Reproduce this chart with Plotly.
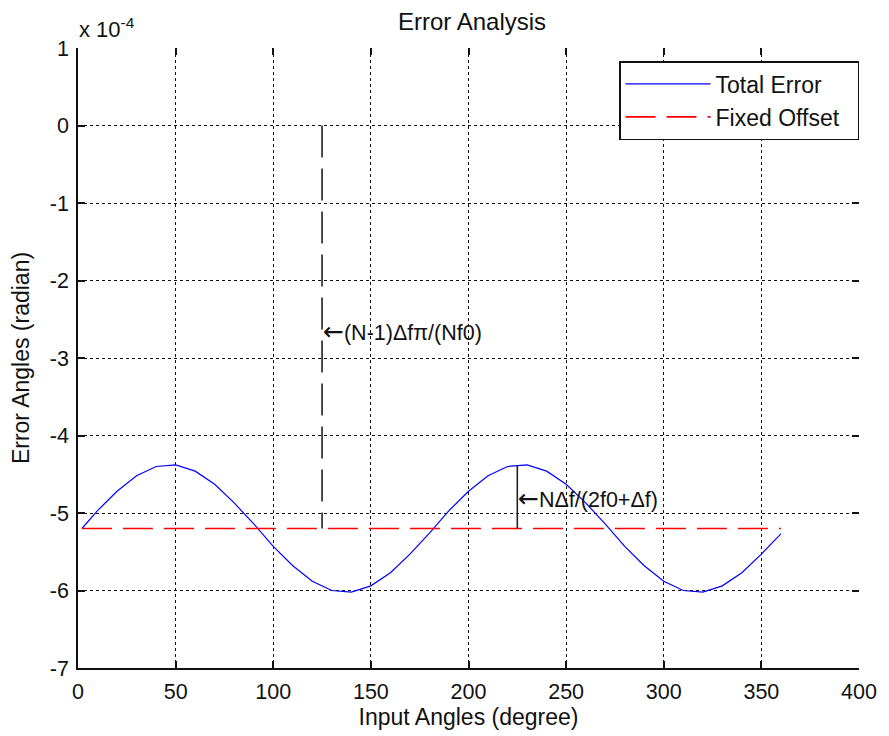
import plotly.graph_objects as go

# Input angle (degree) and total error (x 1e-4 radian)
angles = [2, 10, 20, 30, 40, 50, 60, 70, 80, 90, 100, 110, 120, 130, 140, 150,
          160, 170, 180, 190, 200, 210, 220, 230, 240, 250, 260, 270, 280, 290,
          300, 310, 320, 330, 340, 350, 360]
total_error = [-5.20, -4.97, -4.72, -4.52, -4.40, -4.38, -4.46, -4.63, -4.87,
               -5.14, -5.43, -5.68, -5.88, -6.00, -6.02, -5.94, -5.77, -5.53,
               -5.26, -4.97, -4.72, -4.52, -4.40, -4.38, -4.46, -4.63, -4.87,
               -5.14, -5.43, -5.68, -5.88, -6.00, -6.02, -5.94, -5.77, -5.53,
               -5.27]

# Fixed offset level
offset_x = [2, 360]
offset_y = [-5.2, -5.2]

# Marker lines for the two error components
phase_marker_x = [125, 125]
phase_marker_y = [0, -5.2]
phase_label_y = -2.66
amp_marker_x = [225, 225]
amp_marker_y = [-4.38, -5.2]
amp_label_y = -4.81

x_ticks = [0, 50, 100, 150, 200, 250, 300, 350, 400]
x_tick_text = ["0", "50", "100", "150", "200", "250", "300", "350", "400"]
y_ticks = [1, 0, -1, -2, -3, -4, -5, -6, -7]
y_tick_text = ["1", "0", "-1", "-2", "-3", "-4", "-5", "-6", "-7"]

FONT = "Liberation Sans, Arial, sans-serif"
INK = "#111111"
ARROW = '<span style="font-family:DejaVu Sans;font-size:25px">←</span>'
PAD = "\u00a0\u00a0"  # right padding inside the legend box

fig = go.Figure()
fig.add_trace(go.Scatter(x=angles, y=total_error, mode="lines", name="Total Error" + PAD,
                         legendgroup="a", line=dict(color="#0000ff", width=1.2)))
fig.add_trace(go.Scatter(x=offset_x, y=offset_y, mode="lines", name="Fixed Offset" + PAD,
                         legendgroup="b",
                         line=dict(color="#ff0000", width=1.6, dash="30px,11px")))
fig.add_trace(go.Scatter(x=phase_marker_x, y=phase_marker_y, mode="lines", showlegend=False,
                         line=dict(color="#222222", width=1.6, dash="32px,11px")))
fig.add_trace(go.Scatter(x=amp_marker_x, y=amp_marker_y, mode="lines", showlegend=False,
                         line=dict(color="#222222", width=1.6)))

fig.add_annotation(x=phase_marker_x[0], y=phase_label_y, text=ARROW + "(N-1)Δfπ/(Nf0)",
                   showarrow=False, xanchor="left", yanchor="middle", xshift=-1,
                   font=dict(family=FONT, size=21.5, color=INK))
fig.add_annotation(x=amp_marker_x[0], y=amp_label_y, text=ARROW + "NΔf/(2f0+Δf)",
                   showarrow=False, xanchor="left", yanchor="middle", xshift=-1,
                   font=dict(family=FONT, size=21.5, color=INK))
fig.add_annotation(xref="paper", yref="paper", x=0, y=1, xshift=-1, yshift=4,
                   text="x 10<sup>-4</sup>", showarrow=False,
                   xanchor="left", yanchor="bottom",
                   font=dict(family=FONT, size=22, color=INK))

grid = dict(showgrid=True, gridcolor=INK, gridwidth=1, griddash="3px,3px")
tickfont = dict(family=FONT, size=21.5, color=INK)
axtitle = dict(family=FONT, size=23, color=INK)

fig.update_layout(
    width=889, height=736,
    margin=dict(l=78, r=23, t=48, b=66),
    paper_bgcolor="white", plot_bgcolor="white",
    font=dict(family=FONT, size=21, color=INK),
    title=dict(text="Error Analysis", x=0.531, xanchor="center", y=0.97, yanchor="middle",
               font=dict(family=FONT, size=24, color=INK)),
    xaxis=dict(range=[0, 400], tickvals=x_ticks, ticktext=x_tick_text, ticks="inside",
               ticklen=7, tickcolor=INK, tickwidth=1.5, showline=True, linecolor=INK,
               linewidth=1.5, zeroline=False, ticklabelstandoff=3, tickfont=tickfont,
               title=dict(text="Input Angles (degree)", standoff=4, font=axtitle), **grid),
    yaxis=dict(range=[-7, 1], tickvals=y_ticks, ticktext=y_tick_text, ticks="inside",
               ticklen=7, tickcolor=INK, tickwidth=1.5, showline=True, linecolor=INK,
               linewidth=1.5, zeroline=False, ticklabelstandoff=3, tickfont=tickfont,
               title=dict(text="Error Angles (radian)", standoff=14, font=axtitle), **grid),
    xaxis2=dict(range=[0, 400], tickvals=x_ticks, ticks="inside", ticklen=7,
                tickcolor=INK, tickwidth=1.5, side="top", overlaying="x",
                showticklabels=False, showgrid=False, showline=False, zeroline=False),
    yaxis2=dict(range=[-7, 1], tickvals=y_ticks, ticks="inside", ticklen=7,
                tickcolor=INK, tickwidth=1.5, side="right", overlaying="y",
                showticklabels=False, showgrid=False, showline=False, zeroline=False),
    legend=dict(x=1.0, y=0.979, xanchor="right", yanchor="top",
                bgcolor="white", bordercolor=INK, borderwidth=1.5,
                font=dict(family=FONT, size=23, color=INK),
                itemwidth=85, tracegroupgap=0),
    showlegend=True,
)
# empty trace so the mirrored tick axes are drawn
fig.add_trace(go.Scatter(x=[None], y=[None], xaxis="x2", yaxis="y2", showlegend=False,
                         hoverinfo="skip"))

fig.write_html("out.html")
